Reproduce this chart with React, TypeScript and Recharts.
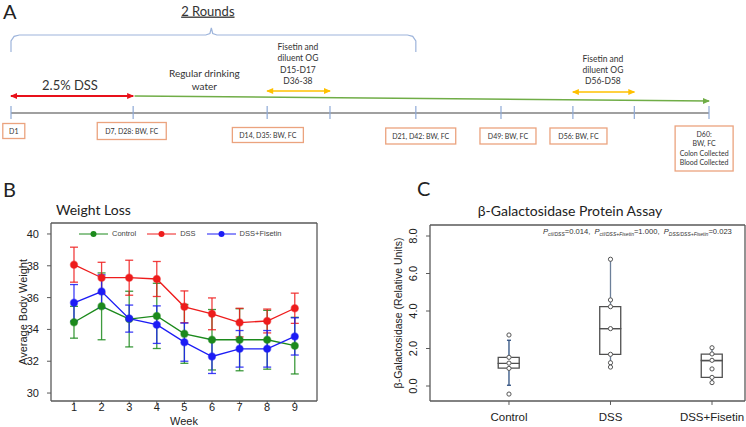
import React from 'react';
import {
  ComposedChart,
  LineChart,
  Line,
  ErrorBar,
  Scatter,
  Bar,
  XAxis,
  YAxis,
  ReferenceLine,
  Legend,
  Label,
} from 'recharts';

const ARIAL = '"Liberation Sans", Arial, sans-serif';
const CALIBRI = 'Lato, "Open Sans", sans-serif';
const FRAME_COLOR = '#595959';

// ---------- Panel A: study timeline (schematic position 0-100 along the axis) ----------
const timelineTicks = [0, 17.5, 36.7, 45.7, 58.0, 70.2, 80.5, 89.3, 100];
const milestoneLabels = [
  ['D1'],
  ['D7, D28: BW, FC'],
  ['D14, D35: BW, FC'],
  ['D21, D42: BW, FC'],
  ['D49: BW, FC'],
  ['D56: BW, FC'],
  ['D60:', 'BW, FC', 'Colon Collected', 'Blood Collected'],
];
const milestonePos = [0.4, 17.3, 36.8, 58.7, 71.2, 81.3, 99.3];
const noteLines = [
  ['2 Rounds'],
  ['2.5% DSS'],
  ['Regular drinking', 'water'],
  ['Fisetin and', 'diluent OG', 'D15-D17', 'D36-38'],
  ['Fisetin and', 'diluent OG', 'D56-D58'],
];
const notePos = [28.2, 8.45, 27.7, 41.1, 84.8];
const roundSpan = [0, 58.0];
const dssPeriod = [0, 17.5];
const waterPeriod = [17.7, 100];
const fisetinPeriods = [
  [36.7, 45.7],
  [80.5, 89.3],
];

// ---------- Panel B: weight loss ----------
const weeks = [1, 2, 3, 4, 5, 6, 7, 8, 9];
const controlMean = [34.45, 35.45, 34.65, 34.85, 33.72, 33.35, 33.35, 33.35, 32.98];
const controlErr = [1.0, 2.1, 1.75, 2.05, 1.85, 1.9, 1.95, 1.85, 1.78];
const dssMean = [38.07, 37.25, 37.25, 37.17, 35.42, 34.98, 34.43, 34.53, 35.33];
const dssErr = [1.1, 0.97, 1.1, 1.1, 1.0, 1.0, 0.9, 0.75, 0.95];
const fisetinMean = [35.67, 36.38, 34.68, 34.3, 33.2, 32.3, 32.78, 32.78, 33.56];
const fisetinErr = [1.15, 1.05, 0.85, 1.18, 1.2, 1.07, 1.15, 1.15, 1.17];
const weightTicks = [30, 32, 34, 36, 38, 40];

// ---------- Panel C: beta-galactosidase ----------
const groups = ['Control', 'DSS', 'DSS+Fisetin'];
const q1 = [0.95, 1.69, 0.46];
const median = [1.21, 3.06, 1.36];
const q3 = [1.53, 4.23, 1.7];
const whiskerLow = [0.04, 1.01, 0.18];
const whiskerHigh = [2.44, 6.76, 2.04];
const samples = [
  [2.72, 1.53, 1.22, 0.94, -0.43],
  [6.76, 4.59, 4.23, 3.06, 1.69, 1.24, 1.01],
  [2.04, 1.71, 1.37, 0.91, 0.46, 0.18],
];
const galTicks = [0, 2, 4, 6, 8];

// layout of the schematic (pixel rows inside panel A)
const boxRow = [131, 131, 135, 136, 136, 136, 148.5];
const boxW = [22, 69, 71, 70, 56, 57, 58];
const boxH = [15, 17, 15, 16, 16, 16, 45];
const noteRow = [11, 85, 80, 64, 70];
const noteSize = [13, 13, 10, 8.5, 8.5];

const milestoneData = milestoneLabels.map((lines, i) => ({
  pos: milestonePos[i],
  row: boxRow[i],
  lines,
  w: boxW[i],
  h: boxH[i],
}));
const noteData = noteLines.map((lines, i) => ({
  pos: notePos[i],
  row: noteRow[i],
  lines,
  size: noteSize[i],
  underline: i === 0,
}));

const bracketPoints = (() => {
  const [l, r] = roundSpan;
  const m = (l + r) / 2 - 0.3;
  return [
    [l, 52], [l, 41], [l + 0.45, 36.3], [l + 1.2, 35], [m - 0.8, 35], [m - 0.2, 33.5],
    [m, 28], [m + 0.2, 33.5], [m + 0.8, 35], [r - 1.2, 35], [r - 0.45, 36.3], [r, 41], [r, 52],
  ].map(([pos, row]) => ({ pos, row }));
})();

const arrow = (span: number[], rows: number[], heads: string[]) => [
  { pos: span[0], row: rows[0], head: heads[0] },
  { pos: span[1], row: rows[1], head: heads[1] },
];

const ArrowHead = (props: any) => {
  const { cx, cy, payload, fill } = props;
  if (!payload || payload.head === 'none') return <g />;
  const d = payload.head === 'left' ? -1 : 1;
  const pts = `${cx + d * 1},${cy} ${cx - d * 6},${cy - 3} ${cx - d * 6},${cy + 3}`;
  return <polygon points={pts} fill={fill} />;
};

const NoShape = () => <g />;

const MilestoneBox = (props: any) => {
  const { cx, cy, payload } = props;
  const n = payload.lines.length;
  const lh = 9.3;
  return (
    <g>
      <rect
        x={cx - payload.w / 2}
        y={cy - payload.h / 2}
        width={payload.w}
        height={payload.h}
        fill="#fff"
        stroke="#eba37e"
        strokeWidth={1.3}
      />
      <text textAnchor="middle" fontSize={7} fill="#333" fontFamily={CALIBRI}>
        {payload.lines.map((l: string, i: number) => (
          <tspan key={i} x={cx} y={cy + (i - (n - 1) / 2) * lh + 2.5}>
            {l}
          </tspan>
        ))}
      </text>
    </g>
  );
};

const NoteText = (props: any) => {
  const { cx, cy, payload } = props;
  const n = payload.lines.length;
  const lh = payload.size * 1.35;
  return (
    <text
      textAnchor="middle"
      fontSize={payload.size}
      fill="#333"
      fontFamily={CALIBRI}
      textDecoration={payload.underline ? 'underline' : undefined}
    >
      {payload.lines.map((l: string, i: number) => (
        <tspan key={i} x={cx} y={cy + (i - (n - 1) / 2) * lh + payload.size * 0.35}>
          {l}
        </tspan>
      ))}
    </text>
  );
};

const TimelinePanel = () => (
  <div style={{ position: 'absolute', left: 0, top: 0 }}>
    <ComposedChart width={746} height={180} margin={{ top: 0, right: 37, bottom: 0, left: 11 }}>
      <XAxis type="number" dataKey="pos" domain={[0, 100]} hide />
      <YAxis type="number" dataKey="row" domain={[0, 180]} reversed hide />
      <ReferenceLine
        segment={[{ x: 0, y: 113 }, { x: 100, y: 113 }]}
        stroke="#808080"
        strokeWidth={1.5}
      />
      {timelineTicks.map((t) => (
        <ReferenceLine
          key={t}
          segment={[{ x: t, y: 106 }, { x: t, y: 119 }]}
          stroke="#8ea9d6"
          strokeWidth={1.2}
        />
      ))}
      <Scatter
        data={bracketPoints}
        fill="#9db4db"
        line={{ strokeWidth: 1.2 }}
        shape={NoShape}
        isAnimationActive={false}
      />
      <Scatter
        data={arrow(dssPeriod, [96, 96], ['left', 'right'])}
        fill="#e8101a"
        line={{ strokeWidth: 2 }}
        shape={ArrowHead}
        isAnimationActive={false}
      />
      <Scatter
        data={arrow(waterPeriod, [96, 101], ['none', 'right'])}
        fill="#70ad47"
        line={{ strokeWidth: 1.6 }}
        shape={ArrowHead}
        isAnimationActive={false}
      />
      {fisetinPeriods.map((p, i) => (
        <Scatter
          key={i}
          data={arrow(p, [91 + i, 91 + i], ['left', 'right'])}
          fill="#ffc000"
          line={{ strokeWidth: 1.6 }}
          shape={ArrowHead}
          isAnimationActive={false}
        />
      ))}
      <Scatter data={milestoneData} shape={MilestoneBox} isAnimationActive={false} />
      <Scatter data={noteData} shape={NoteText} isAnimationActive={false} />
    </ComposedChart>
  </div>
);

// plot frame plus outward tick marks, drawn through the chart's own scales
const frameAndTicks = (
  xd: number[],
  yd: number[],
  xTicks: number[],
  yTicks: number[],
  xTickLen: number,
  yTickLen: number,
) => {
  const segs: { x: number; y: number }[][] = [
    [{ x: xd[0], y: yd[0] }, { x: xd[1], y: yd[0] }],
    [{ x: xd[0], y: yd[1] }, { x: xd[1], y: yd[1] }],
    [{ x: xd[0], y: yd[0] }, { x: xd[0], y: yd[1] }],
    [{ x: xd[1], y: yd[0] }, { x: xd[1], y: yd[1] }],
  ];
  const ticks: { x: number; y: number }[][] = [
    ...xTicks.map((t) => [{ x: t, y: yd[0] }, { x: t, y: yd[0] - xTickLen }]),
    ...yTicks.map((t) => [{ x: xd[0], y: t }, { x: xd[0] - yTickLen, y: t }]),
  ];
  return [
    ...segs.map((s, i) => (
      <ReferenceLine key={`f${i}`} segment={s} stroke={FRAME_COLOR} strokeWidth={1.3} ifOverflow="visible" />
    )),
    ...ticks.map((s, i) => (
      <ReferenceLine key={`t${i}`} segment={s} stroke={FRAME_COLOR} strokeWidth={1} ifOverflow="visible" />
    )),
  ];
};

const AxisTitle = ({ x, y, value, fontSize, rotate }: any) => (
  <text
    x={x}
    y={y}
    transform={rotate ? `rotate(-90, ${x}, ${y})` : undefined}
    textAnchor="middle"
    dominantBaseline={rotate ? 'central' : 'auto'}
    fontSize={fontSize}
    fontFamily={ARIAL}
    fill="#222"
  >
    {value}
  </text>
);

// ---------- Panel B ----------
const weightData = weeks.map((w, i) => ({
  week: w,
  control: controlMean[i],
  controlErr: controlErr[i],
  dss: dssMean[i],
  dssErr: dssErr[i],
  fisetin: fisetinMean[i],
  fisetinErr: fisetinErr[i],
}));

const weightSeries = [
  { key: 'control', name: 'Control', color: '#1c8a1c' },
  { key: 'dss', name: 'DSS', color: '#ee1c1c' },
  { key: 'fisetin', name: 'DSS+Fisetin', color: '#1c1cf5' },
];

const WeightLegend = () => (
  <div style={{ display: 'flex', alignItems: 'center', fontFamily: ARIAL, fontSize: 7.5, color: '#444' }}>
    {weightSeries.map((s) => (
      <div key={s.key} style={{ display: 'flex', alignItems: 'center', marginRight: 11 }}>
        <svg width={29} height={8}>
          <line x1={0} y1={4} x2={29} y2={4} stroke={s.color} strokeWidth={1} />
          <circle cx={14.5} cy={4} r={3} fill={s.color} />
        </svg>
        <span style={{ marginLeft: 4 }}>{s.name}</span>
      </div>
    ))}
  </div>
);

const WEEK_DOMAIN = [0.167, 9.805];
const WEIGHT_DOMAIN = [29.5, 40.69];

const WeightPanel = () => (
  <div style={{ position: 'absolute', left: 0, top: 200, width: 330, height: 227 }}>
    <LineChart width={330} height={227} data={weightData} margin={{ top: 23, right: 13, bottom: 0, left: 0 }}>
      <XAxis
        type="number"
        dataKey="week"
        domain={WEEK_DOMAIN}
        ticks={weeks}
        allowDataOverflow
        height={26}
        axisLine={false}
        tickLine={false}
        tickSize={2}
        tickMargin={0}
        tick={{ fontSize: 11, fill: '#222', fontFamily: ARIAL }}
      />
      <YAxis
        type="number"
        domain={WEIGHT_DOMAIN}
        ticks={weightTicks}
        allowDataOverflow
        width={51}
        axisLine={false}
        tickLine={false}
        tickMargin={6}
        tick={{ fontSize: 11, fill: '#222', fontFamily: ARIAL }}
      />
      {frameAndTicks(WEEK_DOMAIN, WEIGHT_DOMAIN, weeks, weightTicks, 0.19, 0.145)}
      <Legend
        layout="vertical"
        align="center"
        verticalAlign="middle"
        content={WeightLegend}
        wrapperStyle={{ top: 29, left: 79, width: 'auto' }}
      />
      {weightSeries.map((s) => (
        <Line
          key={s.key}
          dataKey={s.key}
          name={s.name}
          stroke={s.color}
          strokeWidth={1.3}
          dot={{ r: 3.5, fill: s.color, stroke: s.color, strokeOpacity: 0.5, strokeWidth: 1.5 }}
          isAnimationActive={false}
        >
          <ErrorBar dataKey={`${s.key}Err`} width={4} stroke={s.color} strokeWidth={1.3} strokeOpacity={0.85} direction="y" />
        </Line>
      ))}
    </LineChart>
    <div
      style={{
        position: 'absolute',
        left: 23 - 60,
        top: 112 - 7,
        width: 120,
        height: 14,
        lineHeight: '14px',
        textAlign: 'center',
        transform: 'rotate(-90deg)',
        fontFamily: ARIAL,
        fontSize: 11,
        color: '#222',
        whiteSpace: 'nowrap',
      }}
    >
      Average Body Weight
    </div>
    <div
      style={{
        position: 'absolute',
        left: 184 - 30,
        top: 216,
        width: 60,
        height: 11,
        lineHeight: '11px',
        textAlign: 'center',
        fontFamily: ARIAL,
        fontSize: 11,
        color: '#222',
      }}
    >
      Week
    </div>
  </div>
);

// ---------- Panel C ----------
const boxData = groups.map((g, i) => ({
  x: i + 1,
  name: g,
  base: q1[i],
  lower: median[i] - q1[i],
  upper: q3[i] - median[i],
}));
const sampleData = samples.flatMap((vals, i) => vals.map((v) => ({ x: i + 1, v })));

const whiskerColor = ['#2e4f7f', '#6c7f99', '#6c7f99'];
const GROUP_DOMAIN = [0.222, 3.325];
const GAL_DOMAIN = [-0.8, 8.587];

const RotatedTick = (props: any) => {
  const { x, y, payload } = props;
  const tx = x - 1;
  return (
    <text
      x={tx}
      y={y}
      transform={`rotate(-90, ${tx}, ${y})`}
      textAnchor="middle"
      fontSize={11}
      fill="#222"
      fontFamily={ARIAL}
    >
      {Number(payload.value).toFixed(1)}
    </text>
  );
};

const SamplePoint = (props: any) => {
  const { cx, cy } = props;
  return <circle cx={cx} cy={cy} r={2.1} fill="#fff" stroke="#555" strokeWidth={1} />;
};

const GalPanel = () => (
  <div style={{ position: 'absolute', left: 373, top: 200 }}>
    <ComposedChart width={373} height={227} data={boxData} margin={{ top: 25, right: 1, bottom: 0, left: 0 }}>
      <XAxis
        type="number"
        dataKey="x"
        domain={GROUP_DOMAIN}
        ticks={[1, 2, 3]}
        allowDataOverflow
        height={26}
        axisLine={false}
        tickLine={false}
        tickMargin={6}
        tickFormatter={(v: number) => groups[v - 1]}
        tick={{ fontSize: 11.5, fill: '#222', fontFamily: ARIAL }}
      />
      <YAxis
        type="number"
        domain={GAL_DOMAIN}
        ticks={galTicks}
        allowDataOverflow
        width={57}
        axisLine={false}
        tickLine={false}
        tickMargin={6}
        tick={RotatedTick}
      >
        <Label
          content={() => (
            <AxisTitle x={25} y={113} value="β-Galactosidase (Relative Units)" fontSize={10.5} rotate />
          )}
        />
      </YAxis>
      {frameAndTicks(GROUP_DOMAIN, GAL_DOMAIN, [1, 2, 3], galTicks, 0.21, 0.039)}
      {groups.map((g, i) => (
        <ReferenceLine
          key={`lo-${g}`}
          segment={[{ x: i + 1, y: whiskerLow[i] }, { x: i + 1, y: q1[i] }]}
          stroke={whiskerColor[i]}
          strokeWidth={1.3}
        />
      ))}
      {groups.map((g, i) => (
        <ReferenceLine
          key={`hi-${g}`}
          segment={[{ x: i + 1, y: q3[i] }, { x: i + 1, y: whiskerHigh[i] }]}
          stroke={whiskerColor[i]}
          strokeWidth={1.3}
        />
      ))}
      {groups.map((g, i) => (
        <ReferenceLine
          key={`cap-lo-${g}`}
          segment={[{ x: i + 0.98, y: whiskerLow[i] }, { x: i + 1.02, y: whiskerLow[i] }]}
          stroke={whiskerColor[i]}
          strokeWidth={1.3}
        />
      ))}
      {groups.map((g, i) => (
        <ReferenceLine
          key={`cap-hi-${g}`}
          segment={[{ x: i + 0.98, y: whiskerHigh[i] }, { x: i + 1.02, y: whiskerHigh[i] }]}
          stroke={whiskerColor[i]}
          strokeWidth={1.3}
        />
      ))}
      <Bar dataKey="base" stackId="box" fill="transparent" barSize={21} isAnimationActive={false} />
      <Bar dataKey="lower" stackId="box" fill="#fff" stroke="#505050" strokeWidth={1.3} barSize={21} isAnimationActive={false} />
      <Bar dataKey="upper" stackId="box" fill="#fff" stroke="#505050" strokeWidth={1.3} barSize={21} isAnimationActive={false} />
      <Scatter data={sampleData} dataKey="v" shape={SamplePoint} isAnimationActive={false} />
    </ComposedChart>
  </div>
);

const PanelLetter = ({ x, y, letter }: { x: number; y: number; letter: string }) => (
  <div
    style={{
      position: 'absolute',
      left: x,
      top: y,
      fontFamily: CALIBRI,
      fontSize: 20,
      lineHeight: 1,
      color: '#222',
    }}
  >
    {letter}
  </div>
);

const Sub = ({ children }: { children: React.ReactNode }) => (
  <sub style={{ fontSize: 5, fontStyle: 'italic', verticalAlign: -2 }}>{children}</sub>
);

export default function App() {
  return (
    <div
      style={{
        position: 'absolute',
        left: 0,
        top: 0,
        width: 746,
        height: 427,
        background: '#fff',
        overflow: 'hidden',
        fontFamily: ARIAL,
      }}
    >
      <TimelinePanel />
      <WeightPanel />
      <GalPanel />
      <PanelLetter x={3} y={1} letter="A" />
      <PanelLetter x={3} y={179} letter="B" />
      <PanelLetter x={417} y={178} letter="C" />
      <div style={{ position: 'absolute', left: 56, top: 203, fontFamily: CALIBRI, fontSize: 14, color: '#222', lineHeight: 1 }}>
        Weight Loss
      </div>
      <div
        style={{
          position: 'absolute',
          left: 420,
          top: 204,
          width: 300,
          textAlign: 'center',
          fontFamily: CALIBRI,
          fontSize: 14,
          color: '#222',
          lineHeight: 1,
        }}
      >
        β-Galactosidase Protein Assay
      </div>
      <div
        style={{
          position: 'absolute',
          left: 543,
          top: 228,
          fontFamily: ARIAL,
          fontSize: 7.6,
          color: '#333',
          whiteSpace: 'nowrap',
          lineHeight: 1,
        }}
      >
        <i>P</i>
        <Sub>ctl/DSS</Sub>=0.014,&nbsp; <i>P</i>
        <Sub>ctl/DSS+Fisetin</Sub>=1.000,&nbsp; <i>P</i>
        <Sub>DSS/DSS+Fisetin</Sub>=0.023
      </div>
    </div>
  );
}
